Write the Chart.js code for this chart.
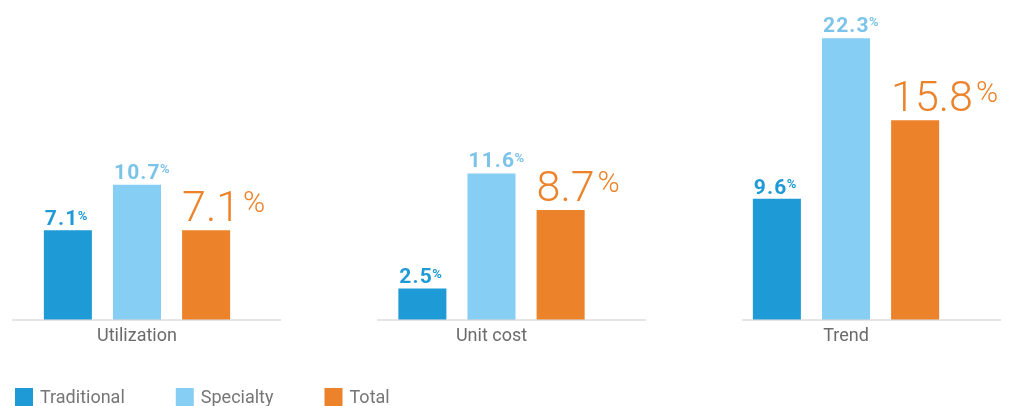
<!DOCTYPE html>
<html>
<head>
<meta charset="utf-8">
<style>
  html, body { margin: 0; padding: 0; background: #ffffff; }
  canvas { display: block; }
</style>
<script src="https://cdn.jsdelivr.net/npm/chart.js@4.4.1/dist/chart.umd.min.js"></script>
</head>
<body>
<canvas id="chart" width="1015" height="406"></canvas>
<script>
// Cost drivers, percent change by component
const categories = ['Utilization', 'Unit cost', 'Trend'];
const seriesNames = ['Traditional', 'Specialty', 'Total'];
const traditional = [7.1, 2.5, 9.6];
const specialty = [10.7, 11.6, 22.3];
const total = [7.1, 8.7, 15.8];

const FONT = 'Roboto, "Open Sans", "DejaVu Sans", sans-serif';
const COLORS = { traditional: '#1e9ad6', specialty: '#87cef5', total: '#ec8229' };

// Value labels: number left-aligned on the bar, small raised percent sign
const valueLabels = {
  id: 'valueLabels',
  afterDatasetsDraw(chart) {
    const ctx = chart.ctx;
    chart.data.datasets.forEach((ds, di) => {
      const st = ds.valueLabel;
      const meta = chart.getDatasetMeta(di);
      meta.data.forEach((bar, i) => {
        const text = ds.data[i].toFixed(1);
        const left = bar.x - bar.width / 2 + st.dx;
        const base = bar.y - st.gap;
        ctx.save();
        ctx.fillStyle = st.color;
        ctx.textAlign = 'left';
        ctx.textBaseline = 'alphabetic';
        ctx.font = `${st.weight} ${st.size}px ${FONT}`;
        const spaced = 'letterSpacing' in ctx;
        if (spaced) ctx.letterSpacing = st.spacing + 'px';
        ctx.fillText(text, left, base);
        let w = ctx.measureText(text).width;
        if (spaced) { w -= st.spacing; ctx.letterSpacing = '0px'; }
        ctx.font = `${st.pWeight} ${st.pSize}px ${FONT}`;
        const pBase = base - st.size * 0.711 + st.pSize * 0.711;
        ctx.fillText('%', left + w + st.pGap, pBase);
        ctx.restore();
      });
    });
  }
};

// Baseline drawn as one short segment under each group
const groupBaselines = {
  id: 'groupBaselines',
  afterDatasetsDraw(chart, args, opts) {
    const ctx = chart.ctx;
    const y = chart.chartArea.bottom;
    ctx.save();
    ctx.strokeStyle = opts.color;
    ctx.lineWidth = opts.width;
    for (let i = 0; i < categories.length; i++) {
      const x0 = opts.start + i * opts.pitch;
      const x1 = Math.min(x0 + opts.length, opts.limit);
      ctx.beginPath();
      ctx.moveTo(x0, y);
      ctx.lineTo(x1, y);
      ctx.stroke();
    }
    ctx.restore();
  }
};

// Legend row along the bottom-left edge
const bottomLegend = {
  id: 'bottomLegend',
  afterDraw(chart, args, opts) {
    const ctx = chart.ctx;
    ctx.save();
    ctx.font = `${opts.size}px ${FONT}`;
    ctx.textAlign = 'left';
    ctx.textBaseline = 'middle';
    let x = opts.x;
    chart.data.datasets.forEach(ds => {
      ctx.fillStyle = ds.backgroundColor;
      ctx.fillRect(x, opts.y, opts.box, opts.box);
      ctx.fillStyle = opts.color;
      const tx = x + opts.box + opts.textGap;
      ctx.fillText(ds.label, tx, opts.y + opts.box / 2 + opts.textDy);
      x = tx + ctx.measureText(ds.label).width + opts.itemGap;
    });
    ctx.restore();
  }
};

const smallLabel = (color) => ({
  color, weight: 'bold', size: 21, spacing: 1.1, dx: 1, gap: 5,
  pWeight: 'bold', pSize: 13, pGap: 0.5
});

new Chart(document.getElementById('chart'), {
  type: 'bar',
  data: {
    labels: categories,
    datasets: [
      {
        label: seriesNames[0], data: traditional,
        backgroundColor: COLORS.traditional, clip: false,
        valueLabel: smallLabel('#1e9ad6')
      },
      {
        label: seriesNames[1], data: specialty,
        backgroundColor: COLORS.specialty, clip: false,
        valueLabel: Object.assign(smallLabel('#7cc3e9'), { gap: 6 })
      },
      {
        label: seriesNames[2], data: total,
        backgroundColor: COLORS.total, clip: false,
        valueLabel: {
          color: '#ec8229', weight: 300, size: 43, spacing: 0, dx: 0, gap: 9,
          pWeight: 300, pSize: 30, pGap: 3
        }
      }
    ]
  },
  options: {
    responsive: false,
    animation: false,
    events: [],
    layout: { padding: { left: 137, right: 169, top: 4, bottom: 52.4 } },
    datasets: {
      bar: { categoryPercentage: 0.585, barPercentage: 0.695, borderWidth: 0 }
    },
    scales: {
      x: {
        type: 'category',
        offset: false,
        grid: { display: false, drawTicks: false },
        border: { display: false },
        ticks: {
          padding: 6,
          color: '#6b6b6b',
          font: { family: FONT, size: 18 },
          maxRotation: 0, autoSkip: false
        }
      },
      y: { display: false, min: 0, max: 25 }
    },
    plugins: {
      legend: { display: false },
      tooltip: { enabled: false },
      groupBaselines: { start: 12, pitch: 365, length: 269, limit: 1001, width: 2, color: 'rgba(214,214,214,0.6)' },
      bottomLegend: { x: 15, y: 388, box: 18, textGap: 7, itemGap: 51, size: 18, textDy: 1, color: '#767676' }
    }
  },
  plugins: [valueLabels, groupBaselines, bottomLegend]
});
</script>
</body>
</html>
